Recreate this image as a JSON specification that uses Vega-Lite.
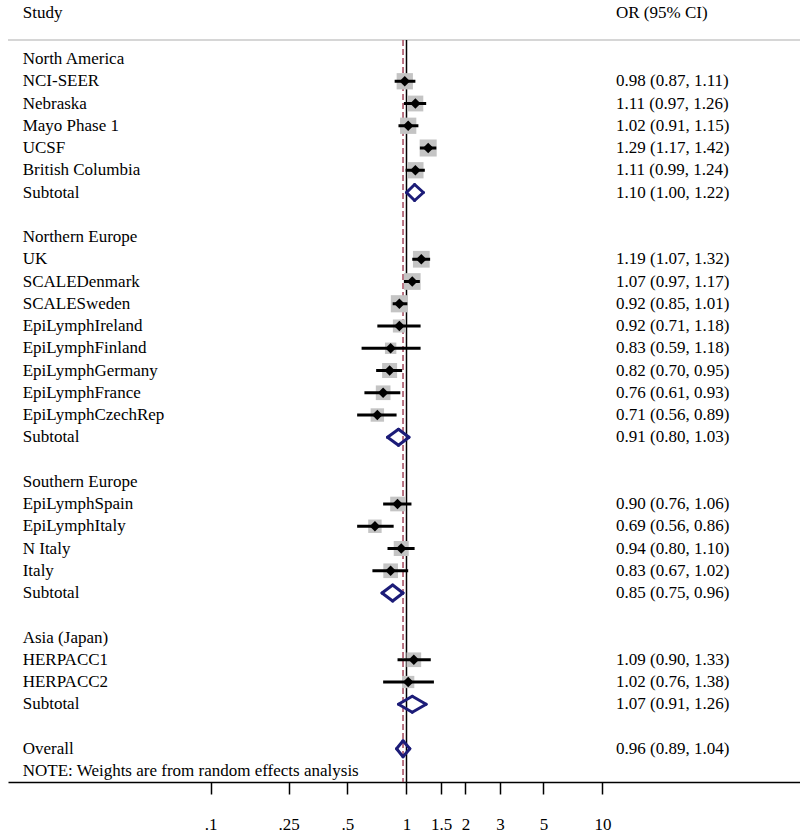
{
  "$schema": "https://vega.github.io/schema/vega-lite/v6.json",
  "width": 792,
  "height": 782,
  "padding": {"left": 8, "top": 0, "right": 0, "bottom": 55},
  "autosize": {"type": "none"},
  "background": "white",
  "config": {
    "view": {"stroke": null},
    "font": "Liberation Serif",
    "axisX": {"domainColor": "black", "domainWidth": 1.5, "tickColor": "black", "tickWidth": 1.5, "tickSize": 12,
      "labelFont": "Liberation Serif", "labelFontSize": 17, "labelColor": "black", "labelPadding": 22, "labelFlush": false, "grid": false},
    "text": {"font": "Liberation Serif", "fontSize": 17, "color": "black", "baseline": "middle", "align": "left"}
  },
  "data": {
    "values": [
      {"label": "North America", "row": 0, "kind": "heading"},
      {"label": "NCI-SEER", "row": 1, "kind": "study", "est": 0.98, "lo": 0.87, "hi": 1.11, "w": 5.3, "ci": "0.98 (0.87, 1.11)"},
      {"label": "Nebraska", "row": 2, "kind": "study", "est": 1.11, "lo": 0.97, "hi": 1.26, "w": 5.0, "ci": "1.11 (0.97, 1.26)"},
      {"label": "Mayo Phase 1", "row": 3, "kind": "study", "est": 1.02, "lo": 0.91, "hi": 1.15, "w": 5.3, "ci": "1.02 (0.91, 1.15)"},
      {"label": "UCSF", "row": 4, "kind": "study", "est": 1.29, "lo": 1.17, "hi": 1.42, "w": 5.8, "ci": "1.29 (1.17, 1.42)"},
      {"label": "British Columbia", "row": 5, "kind": "study", "est": 1.11, "lo": 0.99, "hi": 1.24, "w": 5.3, "ci": "1.11 (0.99, 1.24)"},
      {"label": "Subtotal", "row": 6, "kind": "subtotal", "est": 1.10, "lo": 1.00, "hi": 1.22, "ci": "1.10 (1.00, 1.22)"},
      {"label": "Northern Europe", "row": 8, "kind": "heading"},
      {"label": "UK", "row": 9, "kind": "study", "est": 1.19, "lo": 1.07, "hi": 1.32, "w": 5.6, "ci": "1.19 (1.07, 1.32)"},
      {"label": "SCALEDenmark", "row": 10, "kind": "study", "est": 1.07, "lo": 0.97, "hi": 1.17, "w": 5.6, "ci": "1.07 (0.97, 1.17)"},
      {"label": "SCALESweden", "row": 11, "kind": "study", "est": 0.92, "lo": 0.85, "hi": 1.01, "w": 5.9, "ci": "0.92 (0.85, 1.01)"},
      {"label": "EpiLymphIreland", "row": 12, "kind": "study", "est": 0.92, "lo": 0.71, "hi": 1.18, "w": 3.4, "ci": "0.92 (0.71, 1.18)"},
      {"label": "EpiLymphFinland", "row": 13, "kind": "study", "est": 0.83, "lo": 0.59, "hi": 1.18, "w": 2.6, "ci": "0.83 (0.59, 1.18)"},
      {"label": "EpiLymphGermany", "row": 14, "kind": "study", "est": 0.82, "lo": 0.70, "hi": 0.95, "w": 4.5, "ci": "0.82 (0.70, 0.95)"},
      {"label": "EpiLymphFrance", "row": 15, "kind": "study", "est": 0.76, "lo": 0.61, "hi": 0.93, "w": 4.3, "ci": "0.76 (0.61, 0.93)"},
      {"label": "EpiLymphCzechRep", "row": 16, "kind": "study", "est": 0.71, "lo": 0.56, "hi": 0.89, "w": 3.6, "ci": "0.71 (0.56, 0.89)"},
      {"label": "Subtotal", "row": 17, "kind": "subtotal", "est": 0.91, "lo": 0.80, "hi": 1.03, "ci": "0.91 (0.80, 1.03)"},
      {"label": "Southern Europe", "row": 19, "kind": "heading"},
      {"label": "EpiLymphSpain", "row": 20, "kind": "study", "est": 0.90, "lo": 0.76, "hi": 1.06, "w": 4.3, "ci": "0.90 (0.76, 1.06)"},
      {"label": "EpiLymphItaly", "row": 21, "kind": "study", "est": 0.69, "lo": 0.56, "hi": 0.86, "w": 3.6, "ci": "0.69 (0.56, 0.86)"},
      {"label": "N Italy", "row": 22, "kind": "study", "est": 0.94, "lo": 0.80, "hi": 1.10, "w": 4.5, "ci": "0.94 (0.80, 1.10)"},
      {"label": "Italy", "row": 23, "kind": "study", "est": 0.83, "lo": 0.67, "hi": 1.02, "w": 4.3, "ci": "0.83 (0.67, 1.02)"},
      {"label": "Subtotal", "row": 24, "kind": "subtotal", "est": 0.85, "lo": 0.75, "hi": 0.96, "ci": "0.85 (0.75, 0.96)"},
      {"label": "Asia (Japan)", "row": 26, "kind": "heading"},
      {"label": "HERPACC1", "row": 27, "kind": "study", "est": 1.09, "lo": 0.90, "hi": 1.33, "w": 4.3, "ci": "1.09 (0.90, 1.33)"},
      {"label": "HERPACC2", "row": 28, "kind": "study", "est": 1.02, "lo": 0.76, "hi": 1.38, "w": 3.0, "ci": "1.02 (0.76, 1.38)"},
      {"label": "Subtotal", "row": 29, "kind": "subtotal", "est": 1.07, "lo": 0.91, "hi": 1.26, "ci": "1.07 (0.91, 1.26)"},
      {"label": "Overall", "row": 31, "kind": "overall", "est": 0.96, "lo": 0.89, "hi": 1.04, "ci": "0.96 (0.89, 1.04)"},
      {"label": "NOTE: Weights are from random effects analysis", "row": 32, "kind": "note"}
    ]
  },
  "layer": [
    {
      "data": {"values": [{}]},
      "mark": {"type": "rule", "color": "#c8c8c8", "strokeWidth": 1.5},
      "encoding": {
        "y": {"datum": -0.854, "type": "quantitative", "scale": {"domain": [-2.652, 32.494], "reverse": true, "nice": false, "zero": false}, "axis": null}
      }
    },
    {
      "data": {"values": [{}]},
      "mark": {"type": "rule", "color": "black", "strokeWidth": 1.5},
      "encoding": {
        "x": {"datum": 1, "type": "quantitative", "scale": {"type": "log", "domain": [0.009263, 101.8], "nice": false},
          "axis": {"values": [0.1, 0.25, 0.5, 1, 1.5, 2, 3, 5, 10], "title": null, "labelExpr": "replace(toString(datum.value), '0.', '.')"}},
        "y": {"datum": -0.854, "type": "quantitative", "scale": {"domain": [-2.652, 32.494], "reverse": true, "nice": false, "zero": false}, "axis": null},
        "y2": {"datum": 32.494}
      }
    },
    {
      "transform": [{"filter": "datum.kind === 'overall'"}],
      "mark": {"type": "rule", "color": "#a3485c", "strokeWidth": 1.5, "strokeDash": [6, 3]},
      "encoding": {
        "x": {"field": "est", "type": "quantitative", "scale": {"type": "log", "domain": [0.009263, 101.8], "nice": false},
          "axis": {"values": [0.1, 0.25, 0.5, 1, 1.5, 2, 3, 5, 10], "title": null, "labelExpr": "replace(toString(datum.value), '0.', '.')"}},
        "y": {"datum": -0.854, "type": "quantitative", "scale": {"domain": [-2.652, 32.494], "reverse": true, "nice": false, "zero": false}, "axis": null},
        "y2": {"datum": 32.494}
      }
    },
    {
      "transform": [{"filter": "datum.kind === 'study'"}],
      "mark": {"type": "point", "shape": "square", "filled": true, "color": "#c4c4c4", "opacity": 1},
      "encoding": {
        "x": {"field": "est", "type": "quantitative", "scale": {"type": "log", "domain": [0.009263, 101.8], "nice": false},
          "axis": {"values": [0.1, 0.25, 0.5, 1, 1.5, 2, 3, 5, 10], "title": null, "labelExpr": "replace(toString(datum.value), '0.', '.')"}},
        "y": {"field": "row", "type": "quantitative", "scale": {"domain": [-2.652, 32.494], "reverse": true, "nice": false, "zero": false}, "axis": null},
        "size": {"field": "w", "type": "quantitative", "scale": {"type": "linear", "domain": [0, 10], "range": [0, 500], "zero": true}, "legend": null}
      }
    },
    {
      "transform": [{"filter": "datum.kind === 'study'"}],
      "mark": {"type": "rule", "color": "black", "strokeWidth": 3},
      "encoding": {
        "x": {"field": "lo", "type": "quantitative", "scale": {"type": "log", "domain": [0.009263, 101.8], "nice": false},
          "axis": {"values": [0.1, 0.25, 0.5, 1, 1.5, 2, 3, 5, 10], "title": null, "labelExpr": "replace(toString(datum.value), '0.', '.')"}},
        "x2": {"field": "hi"},
        "y": {"field": "row", "type": "quantitative", "scale": {"domain": [-2.652, 32.494], "reverse": true, "nice": false, "zero": false}, "axis": null}
      }
    },
    {
      "transform": [{"filter": "datum.kind === 'study'"}],
      "mark": {"type": "point", "shape": "diamond", "filled": true, "color": "black", "size": 110, "opacity": 1},
      "encoding": {
        "x": {"field": "est", "type": "quantitative", "scale": {"type": "log", "domain": [0.009263, 101.8], "nice": false},
          "axis": {"values": [0.1, 0.25, 0.5, 1, 1.5, 2, 3, 5, 10], "title": null, "labelExpr": "replace(toString(datum.value), '0.', '.')"}},
        "y": {"field": "row", "type": "quantitative", "scale": {"domain": [-2.652, 32.494], "reverse": true, "nice": false, "zero": false}, "axis": null}
      }
    },
    {
      "transform": [{"filter": "datum.kind === 'subtotal' || datum.kind === 'overall'"}],
      "mark": {"type": "rule", "color": "#1c1c78", "strokeWidth": 3, "strokeCap": "round", "y2Offset": -8},
      "encoding": {
        "x": {"field": "lo", "type": "quantitative", "scale": {"type": "log", "domain": [0.009263, 101.8], "nice": false},
          "axis": {"values": [0.1, 0.25, 0.5, 1, 1.5, 2, 3, 5, 10], "title": null, "labelExpr": "replace(toString(datum.value), '0.', '.')"}},
        "x2": {"field": "est"},
        "y": {"field": "row", "type": "quantitative", "scale": {"domain": [-2.652, 32.494], "reverse": true, "nice": false, "zero": false}, "axis": null},
        "y2": {"field": "row"}
      }
    },
    {
      "transform": [{"filter": "datum.kind === 'subtotal' || datum.kind === 'overall'"}],
      "mark": {"type": "rule", "color": "#1c1c78", "strokeWidth": 3, "strokeCap": "round", "y2Offset": 8},
      "encoding": {
        "x": {"field": "lo", "type": "quantitative", "scale": {"type": "log", "domain": [0.009263, 101.8], "nice": false},
          "axis": {"values": [0.1, 0.25, 0.5, 1, 1.5, 2, 3, 5, 10], "title": null, "labelExpr": "replace(toString(datum.value), '0.', '.')"}},
        "x2": {"field": "est"},
        "y": {"field": "row", "type": "quantitative", "scale": {"domain": [-2.652, 32.494], "reverse": true, "nice": false, "zero": false}, "axis": null},
        "y2": {"field": "row"}
      }
    },
    {
      "transform": [{"filter": "datum.kind === 'subtotal' || datum.kind === 'overall'"}],
      "mark": {"type": "rule", "color": "#1c1c78", "strokeWidth": 3, "strokeCap": "round", "y2Offset": -8},
      "encoding": {
        "x": {"field": "hi", "type": "quantitative", "scale": {"type": "log", "domain": [0.009263, 101.8], "nice": false},
          "axis": {"values": [0.1, 0.25, 0.5, 1, 1.5, 2, 3, 5, 10], "title": null, "labelExpr": "replace(toString(datum.value), '0.', '.')"}},
        "x2": {"field": "est"},
        "y": {"field": "row", "type": "quantitative", "scale": {"domain": [-2.652, 32.494], "reverse": true, "nice": false, "zero": false}, "axis": null},
        "y2": {"field": "row"}
      }
    },
    {
      "transform": [{"filter": "datum.kind === 'subtotal' || datum.kind === 'overall'"}],
      "mark": {"type": "rule", "color": "#1c1c78", "strokeWidth": 3, "strokeCap": "round", "y2Offset": 8},
      "encoding": {
        "x": {"field": "hi", "type": "quantitative", "scale": {"type": "log", "domain": [0.009263, 101.8], "nice": false},
          "axis": {"values": [0.1, 0.25, 0.5, 1, 1.5, 2, 3, 5, 10], "title": null, "labelExpr": "replace(toString(datum.value), '0.', '.')"}},
        "x2": {"field": "est"},
        "y": {"field": "row", "type": "quantitative", "scale": {"domain": [-2.652, 32.494], "reverse": true, "nice": false, "zero": false}, "axis": null},
        "y2": {"field": "row"}
      }
    },
    {
      "mark": {"type": "text"},
      "encoding": {
        "x": {"datum": 0.01101, "type": "quantitative", "scale": {"type": "log", "domain": [0.009263, 101.8], "nice": false},
          "axis": {"values": [0.1, 0.25, 0.5, 1, 1.5, 2, 3, 5, 10], "title": null, "labelExpr": "replace(toString(datum.value), '0.', '.')"}},
        "y": {"field": "row", "type": "quantitative", "scale": {"domain": [-2.652, 32.494], "reverse": true, "nice": false, "zero": false}, "axis": null},
        "text": {"field": "label"}
      }
    },
    {
      "transform": [{"filter": "isValid(datum.ci)"}],
      "mark": {"type": "text"},
      "encoding": {
        "x": {"datum": 11.72, "type": "quantitative", "scale": {"type": "log", "domain": [0.009263, 101.8], "nice": false},
          "axis": {"values": [0.1, 0.25, 0.5, 1, 1.5, 2, 3, 5, 10], "title": null, "labelExpr": "replace(toString(datum.value), '0.', '.')"}},
        "y": {"field": "row", "type": "quantitative", "scale": {"domain": [-2.652, 32.494], "reverse": true, "nice": false, "zero": false}, "axis": null},
        "text": {"field": "ci"}
      }
    },
    {
      "data": {"values": [{"h": "Study", "p": 0.01101}, {"h": "OR (95% CI)", "p": 11.72}]},
      "mark": {"type": "text"},
      "encoding": {
        "x": {"field": "p", "type": "quantitative", "scale": {"type": "log", "domain": [0.009263, 101.8], "nice": false},
          "axis": {"values": [0.1, 0.25, 0.5, 1, 1.5, 2, 3, 5, 10], "title": null, "labelExpr": "replace(toString(datum.value), '0.', '.')"}},
        "y": {"datum": -2.07, "type": "quantitative", "scale": {"domain": [-2.652, 32.494], "reverse": true, "nice": false, "zero": false}, "axis": null},
        "text": {"field": "h"}
      }
    }
  ]
}
